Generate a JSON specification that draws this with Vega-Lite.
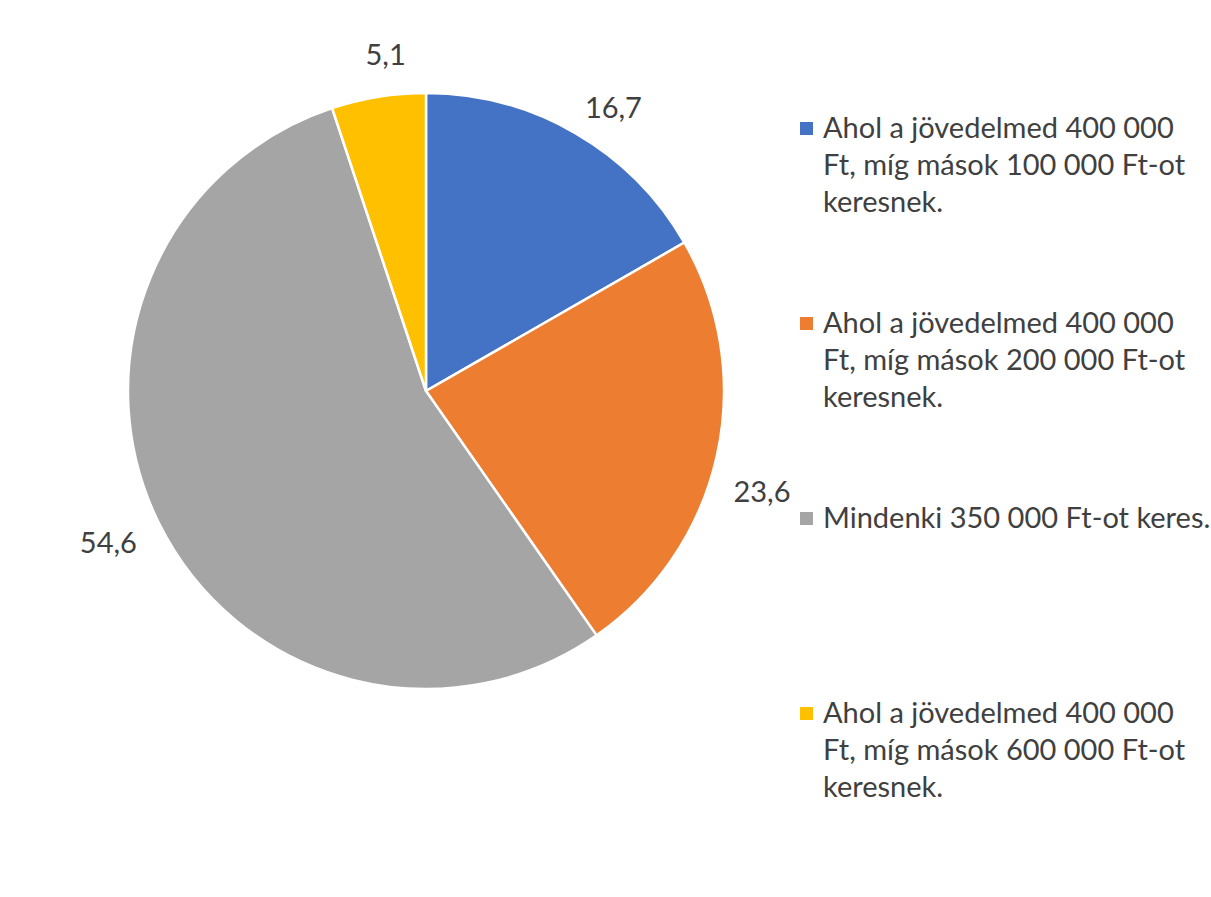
{
  "$schema": "https://vega.github.io/schema/vega-lite/v6.json",
  "width": 600,
  "height": 600,
  "autosize": {"type": "none"},
  "padding": {"left": 126, "top": 91, "right": 485, "bottom": 206},
  "background": "white",
  "config": {
    "view": {"stroke": null},
    "locale": {"number": {"decimal": ",", "thousands": " ", "grouping": [3], "currency": ["", " Ft"]}},
    "style": {"guide-label": {"lineHeight": 37}}
  },
  "data": {
    "values": [
      {"kategoria": "Ahol a jövedelmed 400 000 Ft, míg mások 100 000 Ft-ot keresnek.", "sorrend": 1, "arany": 16.7},
      {"kategoria": "Ahol a jövedelmed 400 000 Ft, míg mások 200 000 Ft-ot keresnek.", "sorrend": 2, "arany": 23.6},
      {"kategoria": "Mindenki 350 000 Ft-ot keres.", "sorrend": 3, "arany": 54.6},
      {"kategoria": "Ahol a jövedelmed 400 000 Ft, míg mások 600 000 Ft-ot keresnek.", "sorrend": 4, "arany": 5.1}
    ]
  },
  "encoding": {
    "theta": {"field": "arany", "type": "quantitative", "stack": true},
    "order": {"field": "sorrend", "type": "quantitative"},
    "color": {
      "field": "kategoria",
      "type": "nominal",
      "scale": {
        "domain": [
          "Ahol a jövedelmed 400 000 Ft, míg mások 100 000 Ft-ot keresnek.",
          "Ahol a jövedelmed 400 000 Ft, míg mások 200 000 Ft-ot keresnek.",
          "Mindenki 350 000 Ft-ot keres.",
          "Ahol a jövedelmed 400 000 Ft, míg mások 600 000 Ft-ot keresnek."
        ],
        "range": ["#4472C4", "#ED7D31", "#A5A5A5", "#FFC000"]
      },
      "legend": {
        "title": null,
        "orient": "none",
        "legendX": 666,
        "legendY": 23,
        "padding": 0,
        "symbolType": "square",
        "symbolSize": 169,
        "symbolStrokeWidth": 0,
        "labelFont": "Lato",
        "labelFontSize": 29,
        "labelColor": "#404040",
        "labelOffset": 2,
        "labelLimit": 1000,
        "rowPadding": 91,
        "labelExpr": "indexof(datum.label,'Mindenki')==0 ? [datum.label,'',''] : ['Ahol a jövedelmed 400 000','Ft, míg mások '+slice(datum.label,40,47)+' Ft-ot','keresnek.']"
      }
    }
  },
  "layer": [
    {"mark": {"type": "arc", "outerRadius": 298, "stroke": "white", "strokeWidth": 2.5}},
    {
      "mark": {"type": "text", "radius": 348, "thetaOffset": 0.044, "dy": 11, "fontSize": 29, "font": "Lato"},
      "encoding": {
        "text": {"field": "arany", "type": "quantitative", "format": ".1f"},
        "color": {"value": "#404040"}
      }
    }
  ]
}
